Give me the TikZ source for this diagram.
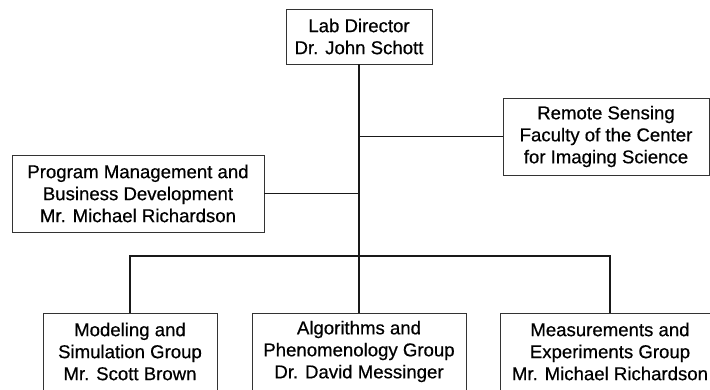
\documentclass[tikz,border=0pt]{standalone}
\usepackage{fontspec}
\setmainfont{Liberation Sans}
\newfontfamily\orgfont[FakeBold=0.5]{Liberation Sans}
\usepackage{tikz}
\usetikzlibrary{positioning, calc}
\tikzset{
  %% Person / unit box
  orgbox/.style={
    rectangle, draw=black!80, fill=white,
    align=center, font=\orgfont\fontsize{18.6}{22}\selectfont,
    inner sep=0pt, line width=0.9pt,
    minimum width=#1, minimum height=77pt
  },
  orgbox/.default=200pt,
  %% Connector line
  link/.style={draw=black!90, line width=1.7pt},
}

\begin{document}
\begin{tikzpicture}[x=1pt, y=-1pt]
  \path[use as bounding box, clip] (0,0) rectangle (710,389);

  \node[orgbox=146pt, minimum height=55pt] (director) at (359,36.5)
    {Lab Director\\Dr. John Schott};
  \node[orgbox=206pt] (faculty) at (606,136.5)
    {Remote Sensing\\Faculty of the Center\\for Imaging Science};
  \node[orgbox=252pt] (progmgmt) at (138,193.5)
    {Program Management and\\Business Development\\Mr. Michael Richardson};

  \node[orgbox=174pt] (modeling) at (130,351.5)
    {Modeling and\\Simulation Group\\Mr. Scott Brown};
  \node[orgbox=214pt] (algorithms) at (359,351.5)
    {Algorithms and\\Phenomenology Group\\Dr. David Messinger};
  \node[orgbox=220pt] (measure) at (610,351.5)
    {Measurements and\\Experiments Group\\Mr. Michael Richardson};

  %% trunk and branches
  \coordinate (hub) at (director.south |- 0,256);
  \draw[link] (director.south) -- (hub);
  \draw[link] (director.south |- faculty.west) -- (faculty.west);
  \draw[link] (progmgmt.east) -- (director.south |- progmgmt.east);
  \draw[link] (modeling.north) |- (hub) -| (measure.north);
  \draw[link] (hub) -- (algorithms.north);
\end{tikzpicture}
\end{document}
